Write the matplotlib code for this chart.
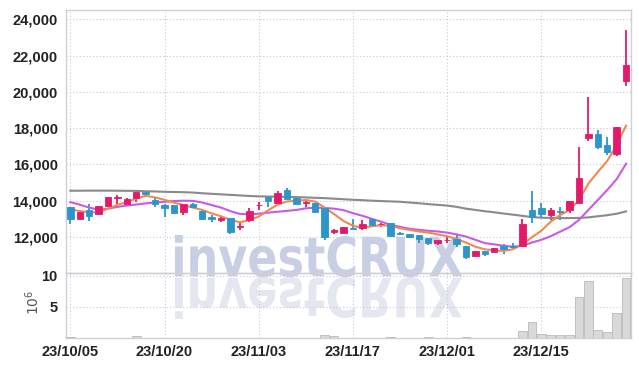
import matplotlib
matplotlib.use("Agg")
import matplotlib.pyplot as plt
import numpy as np
from matplotlib.textpath import TextPath
from matplotlib.patches import PathPatch
from matplotlib.transforms import Affine2D
from matplotlib.font_manager import FontProperties

# ---------------- data ----------------
tick_labels = ["23/10/05", "23/10/20", "23/11/03", "23/11/17", "23/12/01", "23/12/15"]
tick_index = [0, 10, 20, 30, 40, 50]

opens = [13630, 13000, 13480, 13270, 13720, 14160, 13830, 14130, 14490, 14030,
         13750, 13750, 13390, 13800, 13420, 13110, 12910, 13020, 12530, 12910,
         13730, 14180, 13880, 14580, 14160, 13860, 13850, 13570, 12260, 12220,
         12490, 12470, 12980, 12690, 12740, 12220, 12150, 12100, 11910, 11670,
         11800, 11870, 11490, 10950, 11210, 11170, 11490, 11490, 11490, 13480,
         13610, 13200, 13410, 13480, 13880, 17430, 17670, 17070, 16560, 20580]
closes = [13000, 13380, 13160, 13680, 14180, 14210, 14090, 14490, 14350, 13830,
          13610, 13330, 13800, 13630, 12980, 12960, 13050, 12250, 12580, 13420,
          13770, 13990, 14400, 14090, 13830, 13900, 13380, 12000, 12350, 12520,
          12450, 12700, 12650, 12720, 12060, 12150, 11970, 11880, 11670, 11820,
          11830, 11580, 10900, 11210, 11060, 11360, 11320, 11430, 12700, 13110,
          13240, 13480, 13370, 13980, 15230, 17660, 16980, 16650, 18030, 21500]
highs = [13660, 13400, 13790, 13720, 14200, 14310, 14160, 14600, 14500, 14120,
         13790, 13770, 13830, 13850, 13440, 13200, 13130, 13040, 12780, 13570,
         13900, 14200, 14550, 14680, 14240, 14030, 13870, 13600, 12410, 12540,
         12960, 12930, 13000, 12780, 12780, 12260, 12170, 12120, 11930, 11840,
         12040, 12150, 11510, 11230, 11230, 11380, 11600, 11670, 12960, 14510,
         13880, 13570, 13660, 14000, 16950, 19710, 17870, 17480, 18060, 23400]
lows = [12690, 12990, 12890, 13250, 13630, 13790, 13720, 13940, 14330, 13630,
        13110, 13240, 13200, 13600, 12930, 12830, 12830, 12170, 12370, 12830,
        13490, 13630, 13790, 14070, 13810, 13630, 13330, 11830, 12140, 12200,
        12410, 12370, 12620, 12560, 12040, 12110, 11910, 11640, 11540, 11540,
        11670, 11450, 10780, 10930, 10930, 11150, 11050, 11350, 11470, 12780,
        13020, 12930, 12930, 13330, 13850, 17310, 16840, 16520, 16430, 20340]

ma_short = [13510, 13420, 13350, 13350, 13550, 13760, 13910, 14110, 14260, 14170,
            14040, 13880, 13750, 13610, 13480, 13290, 13130, 12930, 12800, 12920,
            13110, 13460, 13770, 13950, 13980, 14030, 13940, 13610, 13250, 12870,
            12610, 12480, 12580, 12640, 12590, 12470, 12380, 12290, 12230, 12130,
            12030, 11880, 11680, 11450, 11310, 11240, 11220, 11310, 11580, 11970,
            12330, 12830, 13200, 13470, 14030, 14930, 15580, 16180, 17080, 18130]
ma_mid = [13910, 13770, 13610, 13490, 13550, 13650, 13720, 13780, 13840, 13890,
          13930, 13970, 13990, 13980, 13890, 13750, 13610, 13410, 13260, 13240,
          13270, 13330, 13380, 13430, 13480, 13570, 13600, 13590, 13550, 13470,
          13300, 13160, 12990, 12830, 12660, 12550, 12440, 12380, 12330, 12290,
          12230, 12130, 12010, 11830, 11650, 11580, 11500, 11450, 11510, 11680,
          11830, 12030, 12280, 12530, 12930, 13480, 14030, 14580, 15180, 16030]
ma_long = [14540, 14540, 14545, 14545, 14545, 14540, 14535, 14530, 14510, 14500,
           14480, 14470, 14460, 14440, 14400, 14370, 14340, 14310, 14280, 14250,
           14230, 14220, 14210, 14200, 14190, 14170, 14150, 14130, 14100, 14070,
           14040, 14020, 13990, 13970, 13950, 13930, 13890, 13850, 13800, 13760,
           13720, 13650, 13550, 13480, 13410, 13350, 13280, 13220, 13150, 13090,
           13050, 13040, 13030, 13030, 13040, 13070, 13130, 13190, 13270, 13400]

volume = [0.22, 0.08, 0.06, 0.05, 0.06, 0.05, 0.06, 0.25, 0.08, 0.06,
          0.05, 0.05, 0.05, 0.05, 0.05, 0.05, 0.05, 0.05, 0.05, 0.05,
          0.05, 0.06, 0.06, 0.05, 0.05, 0.05, 0.06, 0.45, 0.3, 0.08,
          0.06, 0.06, 0.06, 0.06, 0.22, 0.06, 0.05, 0.05, 0.2, 0.05,
          0.05, 0.06, 0.2, 0.06, 0.05, 0.05, 0.06, 0.08, 1.1, 2.5,
          0.65, 0.45, 0.45, 0.45, 6.6, 9.2, 1.3, 0.97, 4.1, 9.7]

# ---------------- style ----------------
UP = "#e5196b"
DOWN = "#2b96c9"
GRID = "#c3c9dc"
SPINE = "#cfcfd4"
TXT = "#222222"
tick_font = dict(family=["Liberation Sans Narrow", "Liberation Sans", "DejaVu Sans"],
                 weight="bold", size=10.5)

W, H = 639, 366
fig = plt.figure(figsize=(W / 100, H / 100), dpi=100)
fig.patch.set_facecolor("white")

L, R = 66 / W, 630.5 / W
ax = fig.add_axes([L, (H - 273) / H, R - L, (273 - 9.5) / H])
axv = fig.add_axes([L, (H - 338) / H, R - L, (338 - 273) / H], sharex=ax)
for a in (ax, axv):
    a.set_facecolor("none")
    for s in a.spines.values():
        s.set_color(SPINE)
        s.set_linewidth(1.0)
    a.tick_params(length=0, colors=TXT)
    a.grid(True, linestyle=(0, (1, 2)), color=GRID, linewidth=0.8)
    a.set_axisbelow(True)

n = len(opens)
x = np.arange(n)
o = np.array(opens); c = np.array(closes)
h = np.array(highs); l = np.array(lows)
up = c >= o
cols = np.where(up, UP, DOWN)

# watermark (with mirrored reflection)
tp = TextPath((0, 0), "investCRUX", size=100,
              prop=FontProperties(family="DejaVu Sans", weight="bold"))
bb = tp.get_extents()
sx = 287 / bb.width
sy = 42 / bb.height
base = H - 277
tr = Affine2D().translate(-bb.x0, -bb.y0).scale(sx / 100, sy / 100).translate(175 / 100, base / 100)
wm = PathPatch(tp, facecolor="#c8cee3", edgecolor="none", transform=tr + fig.dpi_scale_trans,
               zorder=0.6, clip_on=False)
ax.add_artist(wm)
tr2 = Affine2D().translate(-bb.x0, -bb.y0).scale(sx / 100, -sy / 100).translate(175 / 100, base / 100)
wm2 = PathPatch(tp, facecolor="#e4e6f0", edgecolor="none", transform=tr2 + fig.dpi_scale_trans,
                zorder=0.6, clip_on=False)
ax.add_artist(wm2)

# candles
ax.vlines(x, l, h, colors=cols, linewidth=1.3, zorder=2)
body_bottom = np.minimum(o, c)
body_h = np.maximum(np.abs(c - o), 40)
ax.bar(x, body_h, bottom=body_bottom, width=0.68, color=cols, edgecolor=cols,
       linewidth=0.6, zorder=3)

# moving averages
ax.plot(x, ma_long, color="#8a8a8a", linewidth=1.5, zorder=2.5)
ax.plot(x, ma_mid, color="#c95ae6", linewidth=1.5, zorder=2.5)
ax.plot(x, ma_short, color="#ef8a4f", linewidth=1.5, zorder=2.6)

ax.set_ylim(10000, 24540)
yt = [12000, 14000, 16000, 18000, 20000, 22000, 24000]
ax.set_yticks(yt)
ax.set_yticklabels([f"{v:,}" for v in yt], **tick_font)
ax.set_xlim(-0.46, 59.47)
ax.tick_params(axis="x", labelbottom=False)
ax.tick_params(axis="y", pad=6)

# volume
axv.bar(x, volume, width=0.92, color="#d9d9d9", edgecolor="#b9b9b9", linewidth=0.6, zorder=3)
axv.set_ylim(0, 10.48)
axv.set_yticks([5, 10])
axv.set_yticklabels(["5", "10"], **tick_font)
axv.set_xticks(tick_index)
axv.set_xticklabels(tick_labels, **tick_font)
axv.tick_params(axis="x", pad=5)
axv.tick_params(axis="y", pad=6)

fig.text(33 / W, 1 - 302 / H, r"$10^{6}$", rotation=90, ha="center", va="center",
         fontsize=10, color="#555555")

fig.savefig("out.png", dpi=100, facecolor="white")
